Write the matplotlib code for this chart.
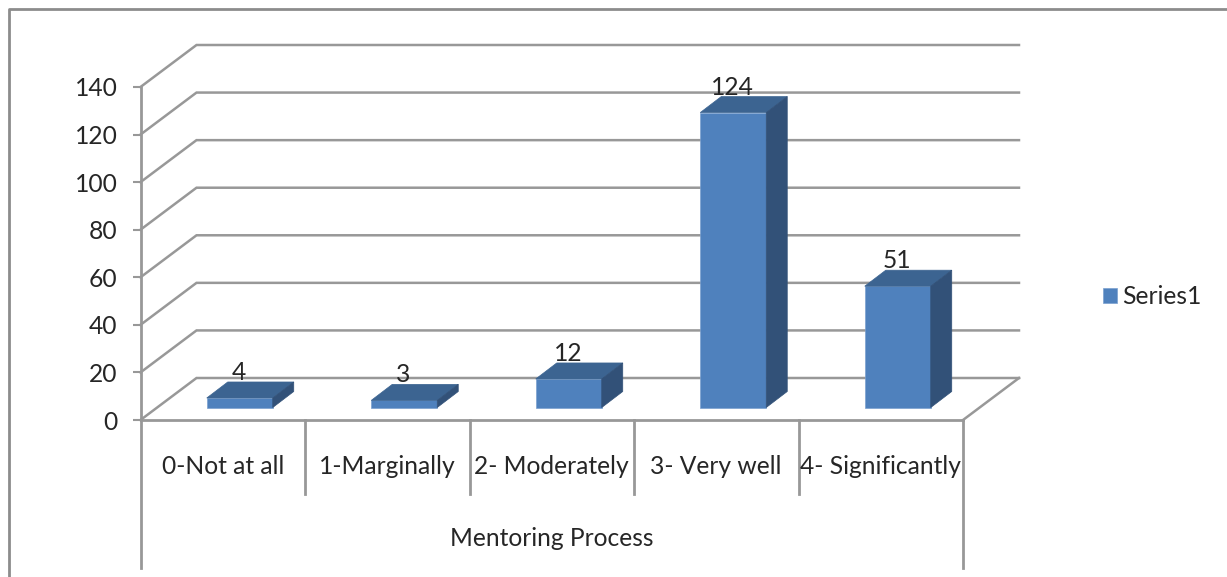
import matplotlib
matplotlib.use("Agg")
import matplotlib.pyplot as plt
from matplotlib.patches import Polygon

categories = ["0-Not at all", "1-Marginally", "2- Moderately", "3- Very well", "4- Significantly"]
values = [4, 3, 12, 124, 51]
y_ticks = [0, 20, 40, 60, 80, 100, 120, 140]
axis_title = "Mentoring Process"
series_name = "Series1"

W, H = 1227, 577
GRID = "#989898"
TEXT = "#262626"
FRONT = "#4F81BD"
TOP = "#3C6491"
SIDE = "#325178"
FS = 17.7

plt.rcParams["font.family"] = ["Lato", "DejaVu Sans"]

fig = plt.figure(figsize=(W / 100, H / 100), dpi=100)

# Axes box is the front plane of the 3D chart, in pixels of the image
left, right, top, bottom = 140.5, 963, 87, 420
ax = fig.add_axes([left / W, 1 - bottom / H, (right - left) / W, (bottom - top) / H])
ax.set_xlim(0, 5)
ax.set_ylim(0, 140)
ax.patch.set_visible(False)
for s in ax.spines.values():
    s.set_visible(False)

# pixel sizes turned into data units
px_x = 5 / (right - left)
px_y = 140 / (bottom - top)
wall_dx, wall_dy = 56 * px_x, 42 * px_y
bar_dx, bar_dy = 21 * px_x, 16 * px_y
shift_x, shift_y = 17 * px_x, 12.5 * px_y
bar_w = 66 * px_x

# Outer frame (only top and left show)
fig.add_artist(plt.Line2D([8.5 / W, 8.5 / W, 1], [0, 1 - 8.5 / H, 1 - 8.5 / H],
                          color="#8c8c8c", lw=2))

# Gridlines: slanted part on the side wall and the back wall
for v in y_ticks:
    ax.plot([0, wall_dx, 5 + wall_dx], [v, v + wall_dy, v + wall_dy],
            color=GRID, lw=1.8, clip_on=False, zorder=1, solid_joinstyle="miter")
ax.plot([5, 5 + wall_dx], [0, wall_dy], color=GRID, lw=1.8, clip_on=False, zorder=1)

# Axis lines and the multi level category separators
low = -(568 - bottom) * px_y
mid = -(494 - bottom) * px_y
ax.plot([0, 5], [0, 0], color=GRID, lw=2, clip_on=False, zorder=2)
ax.plot([0, 0], [140, low], color=GRID, lw=2, clip_on=False, zorder=2)
ax.plot([5, 5], [0, low], color=GRID, lw=2, clip_on=False, zorder=2)
for i in range(1, 5):
    ax.plot([i, i], [0, mid], color=GRID, lw=2, clip_on=False, zorder=2)

# Bars
xs = [i + 0.5 + shift_x for i in range(len(values))]
bars = ax.bar(xs, values, width=bar_w, bottom=shift_y, color=FRONT, edgecolor="#7aa0cf",
              linewidth=0.5, clip_on=False, zorder=4, label=series_name)
for x, v in zip(xs, values):
    l, r = x - bar_w / 2, x + bar_w / 2
    t = v + shift_y
    ax.add_patch(Polygon([(l, t), (r, t), (r + bar_dx, t + bar_dy), (l + bar_dx, t + bar_dy)],
                         facecolor=TOP, edgecolor=TOP, lw=0.5, clip_on=False, zorder=4))
    ax.add_patch(Polygon([(r, shift_y), (r + bar_dx, shift_y + bar_dy), (r + bar_dx, t + bar_dy), (r, t)],
                         facecolor=SIDE, edgecolor=SIDE, lw=0.5, clip_on=False, zorder=4))
    ax.annotate(str(v), (x - 1 * px_x, t + bar_dy), xytext=(0, -1.5), textcoords="offset points",
                ha="center", va="bottom", fontsize=FS, color=TEXT, zorder=5)

# Ticks
ax.set_yticks(y_ticks)
ax.tick_params(axis="y", length=6, width=1.5, color=GRID, labelcolor=TEXT, labelsize=FS, pad=10.5)
ax.set_xticks([])
for i, name in enumerate(categories):
    ax.text(i + 0.5, -(466 - bottom) * px_y, name, ha="center", va="center", fontsize=FS,
            color=TEXT, clip_on=False)
ax.text(2.5, -(538 - bottom) * px_y, axis_title, ha="center", va="center", fontsize=FS,
        color=TEXT, clip_on=False)

# Legend
fig.legend(handles=[bars[0]], labels=[series_name], loc="center left",
           bbox_to_anchor=(1103 / W, 1 - 297 / H), frameon=False, fontsize=FS,
           labelcolor=TEXT, handlelength=0.57, handleheight=0.57, handletextpad=0.22,
           borderpad=0, borderaxespad=0)

fig.savefig("out.png", dpi=100)
